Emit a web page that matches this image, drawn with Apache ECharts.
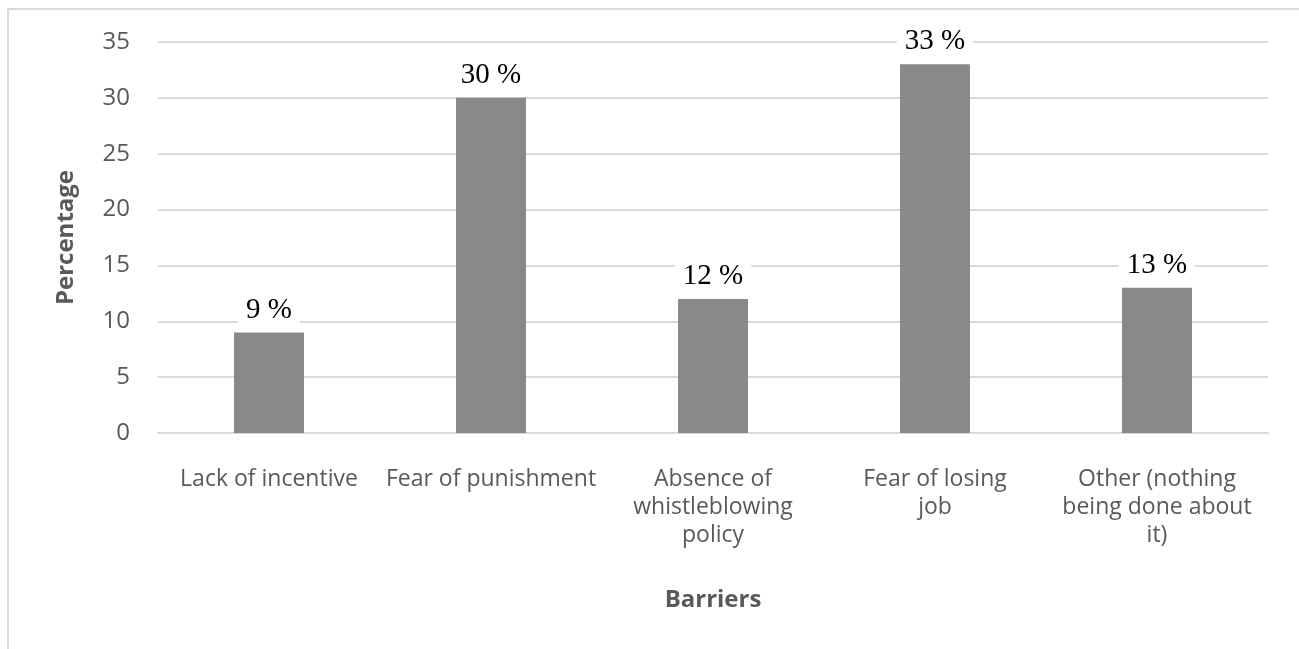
<!DOCTYPE html>
<html lang="en">
<head>
    <meta charset="UTF-8">
    <title>Barriers</title>
    <script src="https://cdn.jsdelivr.net/npm/echarts@6/dist/echarts.min.js"></script>
    <style>
        html, body { margin: 0; padding: 0; background: #fff; }
    </style>
</head>
<body>
    <div id="main" style="width: 1299px; height: 649px"></div>
    <script>
        var myEcharts = echarts.init(document.getElementById('main'))

        // categories (line breaks as in the original)
        var barriers = [
            'Lack of incentive',
            'Fear of punishment',
            'Absence of\nwhistleblowing\npolicy',
            'Fear of losing\njob',
            'Other (nothing\nbeing done about\nit)'
        ]

        var percentages = [9, 30, 12, 33, 13]

        var option = {
            animation: false,
            // light frame round the chart
            graphic: [{
                type: 'rect',
                shape: { x: 8, y: 9, width: 1320, height: 700 },
                style: { fill: 'none', stroke: '#d9d9d9', lineWidth: 2 }
            }],
            grid: {
                left: 158,
                right: 31,
                top: 42,
                bottom: 216
            },
            xAxis: {
                type: 'category',
                data: barriers,
                name: 'Barriers',
                nameLocation: 'middle',
                nameGap: 155,
                nameTextStyle: {
                    fontFamily: 'Open Sans',
                    fontSize: 24,
                    fontWeight: 'bold',
                    color: '#595959'
                },
                axisLine: { lineStyle: { color: '#d9d9d9', width: 2 } },
                axisTick: { show: false },
                axisLabel: {
                    interval: 0,
                    margin: 32,
                    fontFamily: 'Open Sans',
                    fontSize: 23,
                    lineHeight: 28,
                    color: '#595959'
                }
            },
            yAxis: {
                type: 'value',
                min: 0,
                max: 35,
                interval: 5,
                name: 'Percentage',
                nameLocation: 'middle',
                nameGap: 80,
                nameTextStyle: {
                    fontFamily: 'Open Sans',
                    fontSize: 24,
                    fontWeight: 'bold',
                    color: '#595959'
                },
                axisLabel: {
                    margin: 28,
                    fontFamily: 'Open Sans',
                    fontSize: 24,
                    color: '#595959'
                },
                splitLine: { lineStyle: { color: '#d9d9d9', width: 2 } }
            },
            series: [{
                name: 'Percentage',
                type: 'bar',
                data: percentages,
                barWidth: '31.5%',
                itemStyle: { color: '#898989' },
                label: {
                    show: true,
                    position: 'top',
                    distance: 8,
                    formatter: '{c} %',
                    fontFamily: 'Liberation Serif',
                    fontSize: 29,
                    color: '#000',
                    backgroundColor: '#fff',
                    padding: [0, 8]
                }
            }]
        }

        myEcharts.setOption(option)
    </script>
</body>
</html>
